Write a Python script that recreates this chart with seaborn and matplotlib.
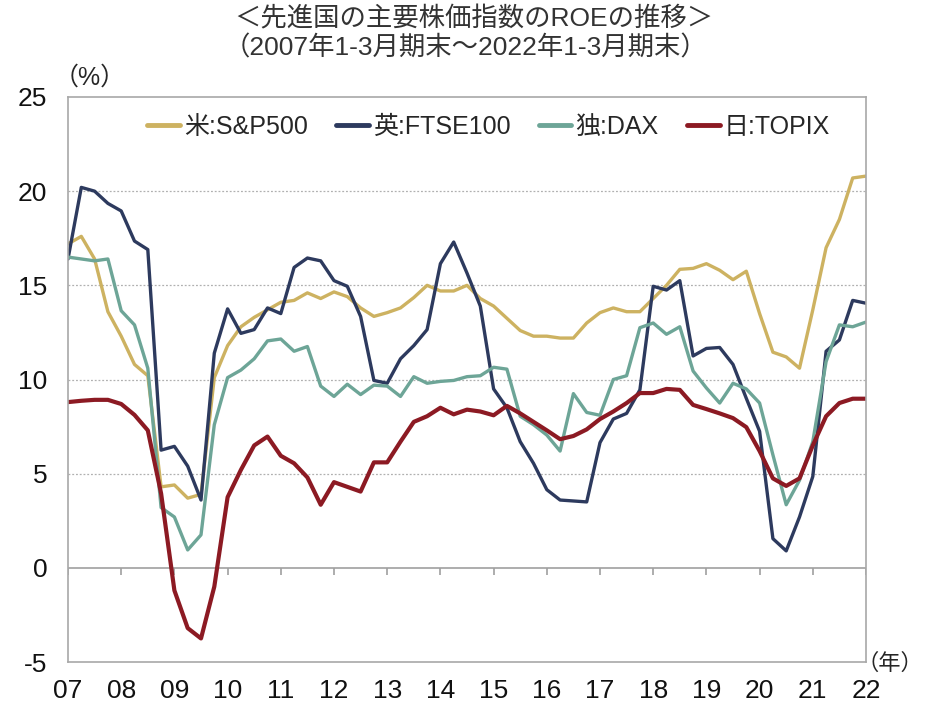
import numpy as np
import pandas as pd
import seaborn as sns
import matplotlib
matplotlib.use('Agg')
import matplotlib.pyplot as plt

# %% data: quarterly ROE (%), 2007 Q1 .. 2022 Q1 (end of Jan-Mar quarter)
sp500 = [17.2, 17.6, 16.4, 13.6, 12.3, 10.8, 10.2, 4.3, 4.4, 3.7,
         3.9, 10.1, 11.8, 12.8, 13.3, 13.7, 14.1, 14.2, 14.6, 14.3,
         14.65, 14.4, 13.8, 13.35, 13.55, 13.8, 14.35, 15.0, 14.7, 14.7,
         15.0, 14.3, 13.9, 13.25, 12.6, 12.3, 12.3, 12.2, 12.2, 13.0,
         13.55, 13.8, 13.6, 13.6, 14.3, 15.0, 15.85, 15.9, 16.15, 15.8,
         15.3, 15.75, 13.5, 11.45, 11.2, 10.6, 13.7, 17.0, 18.5, 20.7,
         20.8]
ftse100 = [16.4, 20.2, 20.0, 19.35, 18.95, 17.35, 16.9, 6.25, 6.45, 5.4,
           3.6, 11.4, 13.75, 12.45, 12.65, 13.8, 13.5, 15.95, 16.45, 16.3,
           15.25, 14.95, 13.35, 9.95, 9.8, 11.1, 11.8, 12.65, 16.15, 17.3,
           15.65, 13.9, 9.5, 8.5, 6.7, 5.55, 4.15, 3.6, 3.55, 3.5,
           6.65, 7.9, 8.2, 9.45, 14.95, 14.75, 15.25, 11.25, 11.65, 11.7,
           10.8, 9.0, 7.25, 1.55, 0.9, 2.7, 4.85, 11.5, 12.1, 14.2,
           14.05]
dax = [16.5, 16.4, 16.3, 16.4, 13.65, 12.9, 10.6, 3.2, 2.7, 0.95,
       1.75, 7.6, 10.1, 10.5, 11.1, 12.05, 12.15, 11.5, 11.75, 9.65,
       9.1, 9.75, 9.2, 9.7, 9.65, 9.1, 10.15, 9.8, 9.9, 9.95,
       10.15, 10.2, 10.65, 10.55, 8.05, 7.6, 7.05, 6.2, 9.25, 8.25,
       8.1, 10.0, 10.2, 12.75, 13.0, 12.4, 12.8, 10.45, 9.55, 8.75,
       9.8, 9.5, 8.75, 6.0, 3.35, 4.65, 6.7, 10.95, 12.9, 12.8,
       13.05]
topix = [8.8, 8.87, 8.92, 8.92, 8.7, 8.12, 7.3, 3.95, -1.2, -3.2,
         -3.75, -1.0, 3.75, 5.2, 6.5, 6.97, 5.95, 5.55, 4.8, 3.35,
         4.55, 4.3, 4.05, 5.6, 5.6, 6.7, 7.75, 8.05, 8.5, 8.15,
         8.4, 8.3, 8.1, 8.6, 8.2, 7.75, 7.3, 6.83, 7.0, 7.35,
         7.9, 8.3, 8.75, 9.28, 9.28, 9.5, 9.45, 8.65, 8.43, 8.2,
         7.95, 7.47, 6.2, 4.75, 4.35, 4.75, 6.5, 8.05, 8.75, 8.98,
         8.98]

labels = ['米:S&P500', '英:FTSE100', '独:DAX', '日:TOPIX']
colors = ['#CDB261', '#2D3A5E', '#6DA597', '#8C1A23']
years = list(range(2007, 2023))
year_labels = [f'{y % 100:02d}' for y in years]

quarters = 2007 + np.arange(len(sp500)) / 4

df = pd.DataFrame({'t': np.tile(quarters, 4),
                   'roe': sp500 + ftse100 + dax + topix,
                   'idx': np.repeat(labels, len(sp500))})

# %% plot
sns.set_style('white')
plt.rcParams['font.family'] = ['Liberation Sans', 'Noto Sans CJK JP', 'DejaVu Sans']
plt.rcParams['axes.unicode_minus'] = False

fig = plt.figure(figsize=(9.26, 7.06), dpi=100)
ax = fig.add_axes([68 / 926, 1 - 662 / 706, (866 - 68) / 926, (662 - 97) / 706])

sns.lineplot(data=df, x='t', y='roe', hue='idx', hue_order=labels,
             palette=colors, linewidth=2.4, ax=ax)
ax.get_lines()[3].set_linewidth(3.0)

ax.set_xlim(2007, 2022)
ax.set_ylim(-5, 25)
ax.set_yticks(range(-5, 26, 5))
ax.set_xticks(years)
ax.set_xticklabels(year_labels)
ax.tick_params(axis='both', length=0, labelsize=19, labelcolor='#111111')
ax.tick_params(axis='x', pad=12)
ax.tick_params(axis='y', pad=15)
ax.set_xlabel('')
ax.set_ylabel('')

for v in [5, 10, 15, 20]:
    ax.axhline(v, color='#B0B0B0', lw=0.9, ls=(0, (1.5, 1.5)), zorder=0)
ax.axhline(0, color='#A0A0A0', lw=1.2, zorder=1)
ax.vlines(years, -0.4, 0, color='#A0A0A0', lw=1.2, zorder=1)

for s in ax.spines.values():
    s.set_color('#A8A8A8')
    s.set_linewidth(1.2)

leg = ax.legend(loc='upper center', bbox_to_anchor=(0.527, 1.008), ncol=4,
                frameon=False, fontsize=18, handlelength=1.3, columnspacing=1.15,
                handletextpad=0.15)
for h in leg.get_lines():
    h.set_linewidth(3.5)

fig.text(474 / 926, 1 - 19 / 706, '＜先進国の主要株価指数のROEの推移＞',
         ha='center', va='center', fontsize=19, color='#333333')
fig.text(466 / 926, 1 - 48 / 706, '（2007年1-3月期末～2022年1-3月期末）',
         ha='center', va='center', fontsize=19, color='#333333')
fig.text(90 / 926, 1 - 78 / 706, '（%）', ha='center', va='center', fontsize=18)
fig.text(890 / 926, 1 - 664 / 706, '（年）', ha='center', va='center', fontsize=16)

fig.savefig('out.png', dpi=100)
